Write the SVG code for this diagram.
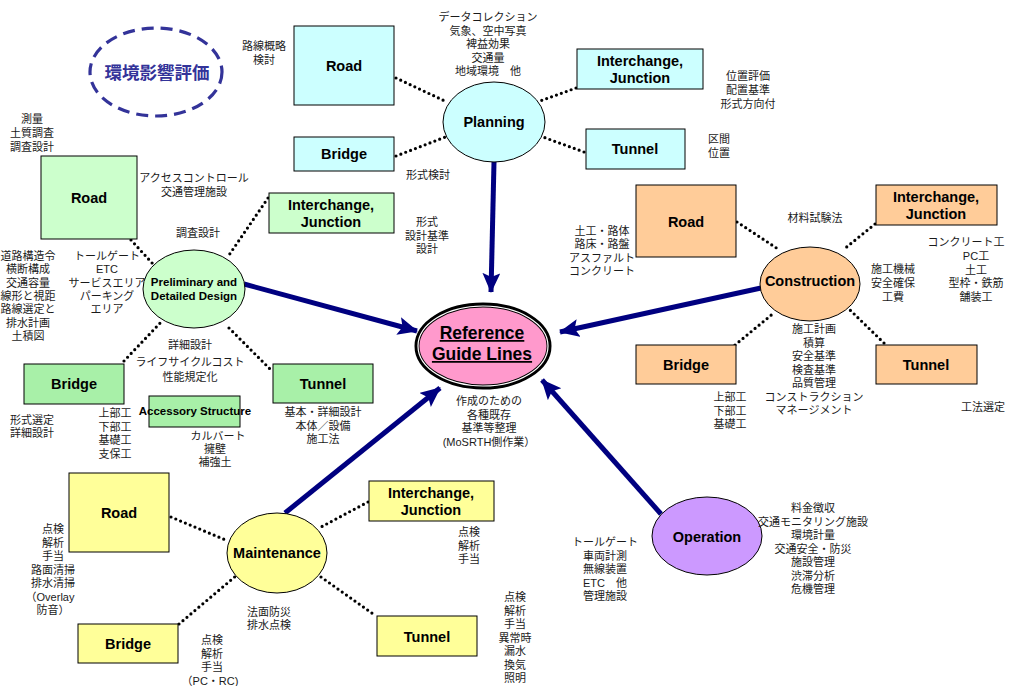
<svg xmlns="http://www.w3.org/2000/svg" width="1013" height="686" viewBox="0 0 1013 686">
  <style>
    .box { stroke: #000; stroke-width: 1; }
    .ell { stroke: #000; stroke-width: 1; }
    .lbl { font-family: "Liberation Sans", Arial, sans-serif; font-weight: bold; font-size: 14.5px; text-anchor: middle; fill: #000; }
    .sm { font-family: "Liberation Sans", Arial, sans-serif; font-weight: bold; font-size: 11.5px; text-anchor: middle; fill: #000; }
    .jp { font-family: "Liberation Sans", "Noto Sans CJK JP", sans-serif; font-size: 11px; text-anchor: middle; fill: #1a1a1a; }
    .jl { font-family: "Liberation Sans", "Noto Sans CJK JP", sans-serif; font-size: 11px; text-anchor: start; fill: #1a1a1a; }
    .dot { stroke: #000; stroke-width: 3.2; stroke-linecap: round; stroke-dasharray: 0 5.2; fill: none; }
    .arr { stroke: #000080; stroke-width: 5; fill: none; marker-end: url(#head); }
    .cyan { fill: #ccffff; }
    .lg { fill: #ccffcc; }
    .mg { fill: #a8f0a8; }
    .org { fill: #ffcc99; }
    .yel { fill: #ffff99; }
  </style>
  <defs>
    <marker id="head" markerUnits="userSpaceOnUse" markerWidth="22" markerHeight="20" refX="19" refY="9" orient="auto">
      <path d="M0,0 L20,9 L0,18 L4,9 Z" fill="#000080"/>
    </marker>
  </defs>

  <rect width="1013" height="686" fill="#fff"/>

  <!-- connectors -->
  <g id="connectors">
    <!-- planning -->
    <line class="dot" x1="396" y1="78" x2="447" y2="102"/>
    <line class="dot" x1="396" y1="156" x2="448" y2="136"/>
    <line class="dot" x1="576" y1="88" x2="540" y2="101"/>
    <line class="dot" x1="584" y1="152" x2="543" y2="137"/>
    <!-- preliminary and detailed design -->
    <line class="dot" x1="131" y1="240" x2="153" y2="264"/>
    <line class="dot" x1="268" y1="198" x2="227" y2="258"/>
    <line class="dot" x1="124" y1="361" x2="163" y2="320"/>
    <line class="dot" x1="229" y1="328" x2="271" y2="370"/>
    <!-- construction -->
    <line class="dot" x1="737" y1="222" x2="778" y2="249"/>
    <line class="dot" x1="875" y1="224" x2="843" y2="250"/>
    <line class="dot" x1="735" y1="345" x2="775" y2="312"/>
    <line class="dot" x1="884" y1="343" x2="849" y2="309"/>
    <!-- maintenance -->
    <line class="dot" x1="171" y1="517" x2="228" y2="541"/>
    <line class="dot" x1="179" y1="624" x2="237" y2="575"/>
    <line class="dot" x1="368" y1="502" x2="321" y2="527"/>
    <line class="dot" x1="321" y1="577" x2="376" y2="616"/>
    <!-- flows into the guide lines -->
    <line class="arr" x1="494" y1="162" x2="491" y2="292"/>
    <line class="arr" x1="244" y1="284" x2="417" y2="331"/>
    <line class="arr" x1="761" y1="288" x2="560" y2="332"/>
    <line class="arr" x1="285" y1="513" x2="440" y2="388"/>
    <line class="arr" x1="661" y1="514" x2="542" y2="380"/>
  </g>

  <!-- environmental assessment -->
  <g id="env">
    <ellipse cx="156" cy="72" rx="66" ry="44" fill="none" stroke="#333399" stroke-width="3.2" stroke-dasharray="12 7"/>
    <text x="157" y="79" font-family="'Noto Sans CJK JP', sans-serif" font-weight="bold" font-size="17.5" text-anchor="middle" fill="#333399">環境影響評価</text>
  </g>

  <!-- planning -->
  <g id="planning">
    <ellipse class="ell" cx="494" cy="122" rx="51" ry="40" fill="#ccffff"/>
    <text class="lbl" x="494" y="127">Planning</text>
    <text class="jp" x="488" y="21">データコレクション<tspan x="488" dy="13.5">気象、空中写真</tspan><tspan x="488" dy="13.5">裨益効果</tspan><tspan x="488" dy="13.5">交通量</tspan><tspan x="488" dy="13.5">地域環境　他</tspan></text>
  </g>
  <g id="plan-road">
    <rect class="box cyan" x="294" y="26" width="100" height="79"/>
    <text class="lbl" x="344" y="71">Road</text>
    <text class="jp" x="264" y="50">路線概略<tspan x="264" dy="14">検討</tspan></text>
  </g>
  <g id="plan-bridge">
    <rect class="box cyan" x="294" y="137" width="100" height="34"/>
    <text class="lbl" x="344" y="159">Bridge</text>
    <text class="jp" x="428" y="179">形式検討</text>
  </g>
  <g id="plan-ic">
    <rect class="box cyan" x="577" y="49" width="126" height="40"/>
    <text class="lbl" x="640" y="66">Interchange,</text>
    <text class="lbl" x="640" y="83">Junction</text>
    <text class="jp" x="748" y="80">位置評価<tspan x="748" dy="14">配置基準</tspan><tspan x="748" dy="14">形式方向付</tspan></text>
  </g>
  <g id="plan-tunnel">
    <rect class="box cyan" x="586" y="129" width="99" height="40"/>
    <text class="lbl" x="635" y="154">Tunnel</text>
    <text class="jl" x="708" y="143">区間<tspan x="708" dy="14">位置</tspan></text>
  </g>

  <!-- preliminary and detailed design -->
  <g id="design">
    <ellipse class="ell" cx="194" cy="289" rx="51" ry="39" fill="#ccffcc"/>
    <text class="sm" x="194" y="286">Preliminary and</text>
    <text class="sm" x="194" y="300">Detailed Design</text>
    <text class="jp" x="198" y="237">調査設計</text>
    <text class="jp" x="190" y="349">詳細設計</text>
    <text class="jp" x="190" y="366">ライフサイクルコスト<tspan x="190" dy="15">性能規定化</tspan></text>
  </g>
  <g id="design-road">
    <rect class="box lg" x="41" y="156" width="96" height="83"/>
    <text class="lbl" x="89" y="203">Road</text>
    <text class="jp" x="32" y="123">測量<tspan x="32" dy="14">土質調査</tspan><tspan x="32" dy="14">調査設計</tspan></text>
    <text class="jp" x="194" y="182">アクセスコントロール<tspan x="194" dy="14">交通管理施設</tspan></text>
    <text class="jp" x="107" y="260">トールゲート<tspan x="107" dy="13.3">ETC</tspan><tspan x="107" dy="13.3">サービスエリア</tspan><tspan x="107" dy="13.3">パーキング</tspan><tspan x="107" dy="13.3">エリア</tspan></text>
    <text class="jp" x="28" y="260">道路構造令<tspan x="28" dy="13.3">横断構成</tspan><tspan x="28" dy="13.3">交通容量</tspan><tspan x="28" dy="13.3">線形と視距</tspan><tspan x="28" dy="13.3">路線選定と</tspan><tspan x="28" dy="13.3">排水計画</tspan><tspan x="28" dy="13.3">土積図</tspan></text>
  </g>
  <g id="design-ic">
    <rect class="box lg" x="269" y="193" width="125" height="40"/>
    <text class="lbl" x="331" y="210">Interchange,</text>
    <text class="lbl" x="331" y="227">Junction</text>
    <text class="jp" x="427" y="226">形式<tspan x="427" dy="13.5">設計基準</tspan><tspan x="427" dy="13.5">設計</tspan></text>
  </g>
  <g id="design-tunnel">
    <rect class="box mg" x="273" y="364" width="100" height="39"/>
    <text class="lbl" x="323" y="389">Tunnel</text>
    <text class="jp" x="323" y="416">基本・詳細設計<tspan x="323" dy="13.5">本体／設備</tspan><tspan x="323" dy="13.5">施工法</tspan></text>
  </g>
  <g id="design-bridge">
    <rect class="box mg" x="24" y="364" width="100" height="40"/>
    <text class="lbl" x="74" y="389">Bridge</text>
    <text class="jp" x="32" y="424">形式選定<tspan x="32" dy="13">詳細設計</tspan></text>
    <text class="jp" x="115" y="417">上部工<tspan x="115" dy="13.7">下部工</tspan><tspan x="115" dy="13.7">基礎工</tspan><tspan x="115" dy="13.7">支保工</tspan></text>
  </g>
  <g id="design-accessory">
    <rect class="box mg" x="149" y="396" width="91" height="31"/>
    <text class="sm" x="195" y="415">Accessory Structure</text>
    <text class="jp" x="218" y="440">カルバート<tspan x="215" dy="13">擁壁</tspan><tspan x="215" dy="13">補強土</tspan></text>
  </g>

  <!-- reference guide lines -->
  <g id="guide">
    <ellipse cx="483" cy="346" rx="66" ry="41" fill="#ff99cc" stroke="#000" stroke-width="5"/>
    <ellipse cx="483" cy="346" rx="65" ry="40" fill="none" stroke="#fff" stroke-width="1.2"/>
    <text x="482" y="339" font-family="'Liberation Sans', Arial, sans-serif" font-weight="bold" font-size="17.5" text-anchor="middle" text-decoration="underline">Reference</text>
    <text x="482" y="360" font-family="'Liberation Sans', Arial, sans-serif" font-weight="bold" font-size="17.5" text-anchor="middle" text-decoration="underline">Guide Lines</text>
    <text class="jp" x="489" y="405">作成のための<tspan x="489" dy="13.5">各種既存</tspan><tspan x="489" dy="13.5">基準等整理</tspan><tspan x="489" dy="13.5">(MoSRTH側作業）</tspan></text>
  </g>

  <!-- construction -->
  <g id="construction">
    <ellipse class="ell" cx="810" cy="284" rx="50" ry="37" fill="#ffcc99"/>
    <text class="lbl" x="810" y="286">Construction</text>
    <text class="jp" x="815" y="222">材料試験法</text>
    <text class="jp" x="893" y="273">施工機械<tspan x="893" dy="14">安全確保</tspan><tspan x="893" dy="14">工費</tspan></text>
    <text class="jp" x="814" y="333">施工計画<tspan x="814" dy="13.5">積算</tspan><tspan x="814" dy="13.5">安全基準</tspan><tspan x="814" dy="13.5">検査基準</tspan><tspan x="814" dy="13.5">品質管理</tspan><tspan x="814" dy="13.5">コンストラクション</tspan><tspan x="814" dy="13.5">マネージメント</tspan></text>
  </g>
  <g id="con-road">
    <rect class="box org" x="636" y="185" width="100" height="72"/>
    <text class="lbl" x="686" y="227">Road</text>
    <text class="jp" x="602" y="235">土工・路体<tspan x="602" dy="13.3">路床・路盤</tspan><tspan x="602" dy="13.3">アスファルト</tspan><tspan x="602" dy="13.3">コンクリート</tspan></text>
  </g>
  <g id="con-ic">
    <rect class="box org" x="876" y="185" width="121" height="40"/>
    <text class="lbl" x="936" y="202">Interchange,</text>
    <text class="lbl" x="936" y="219">Junction</text>
    <text class="jp" x="966" y="246" font-size="10">コンクリート工</text>
    <text class="jp" x="976" y="259.8">PC工<tspan x="976" dy="13.8">土工</tspan><tspan x="976" dy="13.8">型枠・鉄筋</tspan><tspan x="976" dy="13.8">舗装工</tspan></text>
  </g>
  <g id="con-bridge">
    <rect class="box org" x="636" y="345" width="100" height="39"/>
    <text class="lbl" x="686" y="370">Bridge</text>
    <text class="jp" x="730" y="401">上部工<tspan x="730" dy="13.5">下部工</tspan><tspan x="730" dy="13.5">基礎工</tspan></text>
  </g>
  <g id="con-tunnel">
    <rect class="box org" x="876" y="345" width="101" height="39"/>
    <text class="lbl" x="926" y="370">Tunnel</text>
    <text class="jp" x="983" y="411">工法選定</text>
  </g>

  <!-- maintenance -->
  <g id="maintenance">
    <ellipse class="ell" cx="277" cy="553" rx="50" ry="40" fill="#ffff99"/>
    <text class="lbl" x="277" y="558">Maintenance</text>
    <text class="jp" x="269" y="616">法面防災<tspan x="269" dy="13">排水点検</tspan></text>
  </g>
  <g id="mnt-road">
    <rect class="box yel" x="69" y="473" width="100" height="79"/>
    <text class="lbl" x="119" y="518">Road</text>
    <text class="jp" x="53" y="533">点検<tspan x="53" dy="13.5">解析</tspan><tspan x="53" dy="13.5">手当</tspan><tspan x="53" dy="13.5">路面清掃</tspan><tspan x="53" dy="13.5">排水清掃</tspan><tspan x="50" dy="13.5">（Overlay</tspan><tspan x="53" dy="13.5">防音）</tspan></text>
  </g>
  <g id="mnt-bridge">
    <rect class="box yel" x="78" y="624" width="100" height="39"/>
    <text class="lbl" x="128" y="649">Bridge</text>
    <text class="jp" x="212" y="644">点検<tspan x="212" dy="13.5">解析</tspan><tspan x="212" dy="13.5">手当</tspan><tspan x="210" dy="13.5">（PC・RC)</tspan></text>
  </g>
  <g id="mnt-ic">
    <rect class="box yel" x="369" y="481" width="125" height="40"/>
    <text class="lbl" x="431" y="498">Interchange,</text>
    <text class="lbl" x="431" y="515">Junction</text>
    <text class="jp" x="469" y="536">点検<tspan x="469" dy="13.5">解析</tspan><tspan x="469" dy="13.5">手当</tspan></text>
  </g>
  <g id="mnt-tunnel">
    <rect class="box yel" x="377" y="616" width="100" height="40"/>
    <text class="lbl" x="427" y="642">Tunnel</text>
    <text class="jp" x="515" y="601">点検<tspan x="515" dy="13.5">解析</tspan><tspan x="515" dy="13.5">手当</tspan><tspan x="515" dy="13.5">異常時</tspan><tspan x="515" dy="13.5">漏水</tspan><tspan x="515" dy="13.5">換気</tspan><tspan x="515" dy="13.5">照明</tspan></text>
  </g>

  <!-- operation -->
  <g id="operation">
    <ellipse class="ell" cx="707" cy="536" rx="55" ry="39" fill="#cc99ff"/>
    <text class="lbl" x="707" y="542">Operation</text>
    <text class="jp" x="605" y="546">トールゲート<tspan x="605" dy="13.5">車両計測</tspan><tspan x="605" dy="13.5">無線装置</tspan><tspan x="605" dy="13.5">ETC　他</tspan><tspan x="605" dy="13.5">管理施設</tspan></text>
    <text class="jp" x="813" y="512">料金徴収<tspan x="813" dy="13.5">交通モニタリング施設</tspan><tspan x="813" dy="13.5">環境計量</tspan><tspan x="813" dy="13.5">交通安全・防災</tspan><tspan x="813" dy="13.5">施設管理</tspan><tspan x="813" dy="13.5">渋滞分析</tspan><tspan x="813" dy="13.5">危機管理</tspan></text>
  </g>
</svg>
